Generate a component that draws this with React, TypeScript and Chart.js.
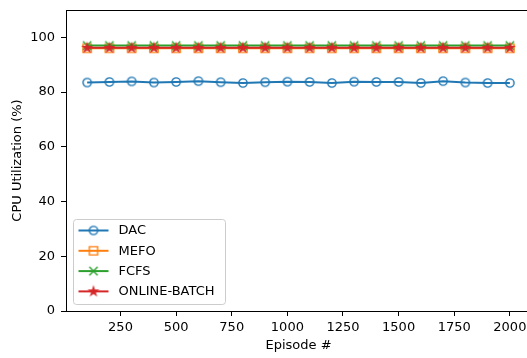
import React, { useEffect, useRef } from 'react';
import { Chart, registerables } from 'chart.js';

Chart.register(...registerables);

// Episodes sampled every 100 steps
const episodes = [100, 200, 300, 400, 500, 600, 700, 800, 900, 1000, 1100, 1200, 1300, 1400, 1500, 1600, 1700, 1800, 1900, 2000];

// CPU utilization (%) per scheduler
const dacUtil = [83.5, 83.7, 83.9, 83.5, 83.7, 84.0, 83.6, 83.3, 83.6, 83.8, 83.7, 83.3, 83.8, 83.7, 83.7, 83.3, 84.0, 83.5, 83.3, 83.3];
const mefoUtil = [96.0, 96.0, 96.0, 96.0, 96.0, 96.0, 96.0, 96.0, 96.0, 96.0, 96.0, 96.0, 96.0, 96.0, 96.0, 96.0, 96.0, 96.0, 96.0, 96.0];
const fcfsUtil = [97.0, 97.0, 97.0, 97.0, 97.0, 97.0, 97.0, 97.0, 97.0, 97.0, 97.0, 97.0, 97.0, 97.0, 97.0, 97.0, 97.0, 97.0, 97.0, 97.0];
const onlineBatchUtil = [96.2, 96.2, 96.2, 96.2, 96.2, 96.2, 96.2, 96.2, 96.2, 96.2, 96.2, 96.2, 96.2, 96.2, 96.2, 96.2, 96.2, 96.2, 96.2, 96.2];

const seriesNames = ['DAC', 'MEFO', 'FCFS', 'ONLINE-BATCH'];
const seriesColors = ['#1f77b4', '#ff7f0e', '#2ca02c', '#d62728'];

const xTicks = [250, 500, 750, 1000, 1250, 1500, 1750, 2000];
const yTicks = [0, 20, 40, 60, 80, 100];

const FONT = 'DejaVu Sans';

// Small canvases used as point styles (and reused in the legend)
function makeMarker(kind: string, color: string): HTMLCanvasElement {
  const size = 14;
  const c = document.createElement('canvas');
  c.width = size;
  c.height = size;
  const ctx = c.getContext('2d')!;
  const cx = size / 2;
  const cy = size / 2;
  const r = 4.15;
  ctx.strokeStyle = color;
  ctx.fillStyle = color;
  ctx.lineWidth = 1.4;
  ctx.lineJoin = 'miter';
  ctx.beginPath();
  if (kind === 'circle') {
    ctx.arc(cx, cy, r, 0, Math.PI * 2);
    ctx.stroke();
  } else if (kind === 'square') {
    ctx.rect(cx - r, cy - r, 2 * r, 2 * r);
    ctx.stroke();
  } else if (kind === 'x') {
    ctx.moveTo(cx - r, cy - r);
    ctx.lineTo(cx + r, cy + r);
    ctx.moveTo(cx - r, cy + r);
    ctx.lineTo(cx + r, cy - r);
    ctx.stroke();
  } else if (kind === 'star') {
    const inner = r * 0.381966;
    for (let i = 0; i < 10; i++) {
      const rad = i % 2 === 0 ? r : inner;
      const a = -Math.PI / 2 + (i * Math.PI) / 5;
      const px = cx + rad * Math.cos(a);
      const py = cy + rad * Math.sin(a);
      if (i === 0) ctx.moveTo(px, py);
      else ctx.lineTo(px, py);
    }
    ctx.closePath();
    ctx.fill();
    ctx.stroke();
  }
  return c;
}

export default function App() {
  const canvasRef = useRef<HTMLCanvasElement | null>(null);

  useEffect(() => {
    const canvas = canvasRef.current;
    if (!canvas) return;

    const markerKinds = ['circle', 'square', 'x', 'star'];
    const markers = markerKinds.map((k, i) => makeMarker(k, seriesColors[i]));
    const values = [dacUtil, mefoUtil, fcfsUtil, onlineBatchUtil];

    const datasets = values.map((vals, i) => ({
      label: seriesNames[i],
      data: episodes.map((e, j) => ({ x: e, y: vals[j] })),
      borderColor: seriesColors[i],
      backgroundColor: seriesColors[i],
      borderWidth: 2,
      pointStyle: markers[i],
      pointRadius: 5,
      pointHoverRadius: 5,
      tension: 0,
      order: 3 - i,
    }));

    // Full box around the plotting area
    const framePlugin = {
      id: 'frame',
      afterDraw(chart: any) {
        const { ctx, chartArea } = chart;
        ctx.save();
        ctx.strokeStyle = '#000';
        ctx.lineWidth = 1;
        const l = Math.round(chartArea.left) + 0.5;
        const t = Math.round(chartArea.top) + 0.5;
        const r = Math.round(chartArea.right) + 0.5;
        const b = Math.round(chartArea.bottom) + 0.5;
        ctx.strokeRect(l, t, r - l, b - t);
        ctx.restore();
      },
    };

    // Legend box in the lower-left corner of the plot
    const legendPlugin = {
      id: 'innerLegend',
      afterDraw(chart: any) {
        const { ctx, chartArea } = chart;
        const boxL = chartArea.left + 7.5;
        const boxB = chartArea.bottom - 6.5;
        const boxW = 152;
        const boxH = 85;
        const boxT = boxB - boxH;
        ctx.save();
        ctx.beginPath();
        const rad = 3;
        ctx.moveTo(boxL + rad, boxT);
        ctx.lineTo(boxL + boxW - rad, boxT);
        ctx.arcTo(boxL + boxW, boxT, boxL + boxW, boxT + rad, rad);
        ctx.lineTo(boxL + boxW, boxB - rad);
        ctx.arcTo(boxL + boxW, boxB, boxL + boxW - rad, boxB, rad);
        ctx.lineTo(boxL + rad, boxB);
        ctx.arcTo(boxL, boxB, boxL, boxB - rad, rad);
        ctx.lineTo(boxL, boxT + rad);
        ctx.arcTo(boxL, boxT, boxL + rad, boxT, rad);
        ctx.closePath();
        ctx.fillStyle = 'rgba(255,255,255,0.8)';
        ctx.fill();
        ctx.strokeStyle = '#cccccc';
        ctx.lineWidth = 1;
        ctx.stroke();

        ctx.font = `13px "${FONT}"`;
        ctx.textBaseline = 'middle';
        ctx.textAlign = 'left';
        seriesNames.forEach((name, i) => {
          const y = boxT + 11 + i * 20.3;
          ctx.strokeStyle = seriesColors[i];
          ctx.lineWidth = 2;
          ctx.beginPath();
          ctx.moveTo(boxL + 5, y);
          ctx.lineTo(boxL + 35, y);
          ctx.stroke();
          const m = markers[i];
          ctx.drawImage(m, boxL + 20 - m.width / 2, y - m.height / 2);
          ctx.fillStyle = '#000';
          ctx.fillText(name, boxL + 45, y + 0.5);
        });
        ctx.restore();
      },
    };

    const chart = new Chart(canvas, {
      type: 'line',
      data: { datasets },
      options: {
        responsive: false,
        animation: false,
        devicePixelRatio: 1,
        events: [],
        layout: { padding: { top: 10, right: 9, left: 0, bottom: 0 } },
        plugins: {
          legend: { display: false },
          tooltip: { enabled: false },
        },
        scales: {
          x: {
            type: 'linear',
            min: 5,
            max: 2095,
            afterBuildTicks: (scale: any) => {
              scale.ticks = xTicks.map((v) => ({ value: v }));
            },
            afterFit: (scale: any) => {
              scale.height = 47;
            },
            border: { display: false },
            grid: {
              drawOnChartArea: false,
              drawTicks: true,
              tickLength: 5,
              color: '#000',
              lineWidth: 1,
            },
            ticks: {
              color: '#000',
              font: { family: FONT, size: 13 },
              padding: 4,
              maxRotation: 0,
              autoSkip: false,
              callback: (v: any) => String(v),
            },
            title: {
              display: true,
              text: 'Episode #',
              color: '#000',
              font: { family: FONT, size: 13 },
              padding: { top: 0, bottom: 5 },
            },
          },
          y: {
            type: 'linear',
            min: 0,
            max: 110,
            afterBuildTicks: (scale: any) => {
              scale.ticks = yTicks.map((v) => ({ value: v }));
            },
            afterFit: (scale: any) => {
              scale.width = 66;
              scale.paddingTop = 0;
              scale.paddingBottom = 0;
            },
            border: { display: false },
            grid: {
              drawOnChartArea: false,
              drawTicks: true,
              tickLength: 5,
              color: '#000',
              lineWidth: 1,
            },
            ticks: {
              color: '#000',
              font: { family: FONT, size: 13 },
              padding: 6,
              autoSkip: false,
              callback: (v: any) => String(v),
            },
            title: {
              display: true,
              text: 'CPU Utilization (%)',
              color: '#000',
              font: { family: FONT, size: 13 },
              padding: { top: 10, bottom: 0 },
            },
          },
        },
      },
      plugins: [framePlugin, legendPlugin],
    });

    return () => {
      chart.destroy();
    };
  }, []);

  return (
    <div
      style={{
        position: 'absolute',
        left: 0,
        top: 0,
        width: 527,
        height: 358,
        overflow: 'hidden',
        background: '#fff',
      }}
    >
      <canvas ref={canvasRef} width={540} height={358} style={{ display: 'block' }} />
    </div>
  );
}
